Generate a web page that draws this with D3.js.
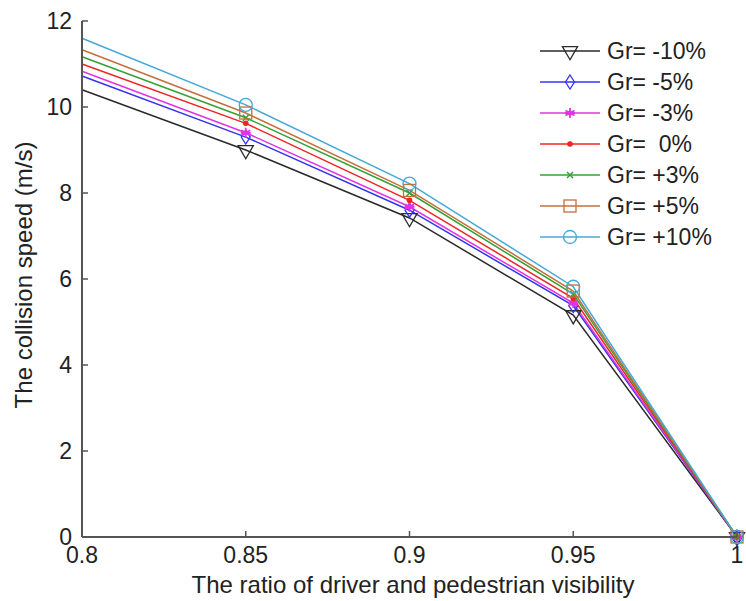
<!DOCTYPE html>
<html>
<head>
<meta charset="utf-8">
<script src="https://cdn.jsdelivr.net/npm/d3@7"></script>
<style>
  body { margin: 0; background: #fff; }
  text { font-family: "Liberation Sans", Arial, sans-serif; fill: #222; }
</style>
</head>
<body>
<svg id="vis" width="746" height="601"></svg>
<script>
// collision speed vs visibility ratio, one line per grade

var ratios = [0.8, 0.85, 0.9, 0.95, 1];
var labels = ["Gr= -10%", "Gr= -5%", "Gr= -3%", "Gr=  0%", "Gr= +3%", "Gr= +5%", "Gr= +10%"];
var grM10 = [10.40, 9.00, 7.42, 5.16, 0];
var grM5  = [10.72, 9.30, 7.60, 5.38, 0];
var grM3  = [10.83, 9.40, 7.68, 5.44, 0];
var gr0   = [11.00, 9.62, 7.83, 5.55, 0];
var grP3  = [11.17, 9.75, 8.00, 5.65, 0];
var grP5  = [11.33, 9.86, 8.06, 5.72, 0];
var grP10 = [11.60, 10.05, 8.22, 5.82, 0];
var xTicks = [0.8, 0.85, 0.9, 0.95, 1];
var yTicks = [0, 2, 4, 6, 8, 10, 12];

var series = [grM10, grM5, grM3, gr0, grP3, grP5, grP10];
var colors = ["#2a2a2a", "#3434f0", "#e034e0", "#f02424", "#36a036", "#c2703e", "#44a8d8"];
var shapes = ["tri", "diamond", "star", "dot", "cross", "square", "circle"];

var svg = d3.select("#vis");
var mLeft = 82, mRight = 737, mTop = 21, mBottom = 537;

var x = d3.scaleLinear().domain([0.8, 1]).range([mLeft, mRight]);
var y = d3.scaleLinear().domain([0, 12]).range([mBottom, mTop]);

// lines
var line = d3.line()
  .x(function(d, i) { return x(ratios[i]); })
  .y(function(d) { return y(d); });

series.forEach(function(s, k) {
  svg.append("path")
    .attr("d", line(s))
    .attr("fill", "none")
    .attr("stroke", colors[k])
    .attr("stroke-width", 1.5);
});

function marker(g, shape, color) {
  if (shape == "tri") {
    g.append("path").attr("d", d3.symbol().type(d3.symbolTriangle).size(100)())
      .attr("transform", "rotate(180)")
      .attr("fill", "none").attr("stroke", color).attr("stroke-width", 1.3);
  } else if (shape == "diamond") {
    g.append("path").attr("d", "M0,-7 L4.5,0 L0,7 L-4.5,0 Z")
      .attr("fill", "none").attr("stroke", color).attr("stroke-width", 1.3);
  } else if (shape == "star") {
    g.append("path").attr("d", "M0,-5 L0,5 M-4.5,-2.5 L4.5,2.5 M-4.5,2.5 L4.5,-2.5 M-5,0 L5,0")
      .attr("stroke", color).attr("stroke-width", 1.8);
    g.append("circle").attr("r", 2.5).attr("fill", color);
  } else if (shape == "dot") {
    g.append("circle").attr("r", 2.8).attr("fill", color);
  } else if (shape == "cross") {
    g.append("path").attr("d", "M-3,-3 L3,3 M-3,3 L3,-3")
      .attr("stroke", color).attr("stroke-width", 1.5);
  } else if (shape == "square") {
    g.append("rect").attr("x", -6).attr("y", -6).attr("width", 12).attr("height", 12)
      .attr("fill", "none").attr("stroke", color).attr("stroke-width", 1.3);
  } else if (shape == "circle") {
    g.append("circle").attr("r", 6.5)
      .attr("fill", "none").attr("stroke", color).attr("stroke-width", 1.3);
  }
}

// markers (the first point sits on the axis edge and is clipped in the original)
series.forEach(function(s, k) {
  s.forEach(function(v, i) {
    if (i == 0) return;
    var g = svg.append("g").attr("transform", "translate(" + x(ratios[i]) + "," + y(v) + ")");
    marker(g, shapes[k], colors[k]);
  });
});

// axes
var axisColor = "#555";
svg.append("line").attr("x1", mLeft).attr("x2", mRight).attr("y1", mBottom).attr("y2", mBottom)
  .attr("stroke", axisColor).attr("stroke-width", 2);
svg.append("line").attr("x1", mLeft).attr("x2", mLeft).attr("y1", mTop).attr("y2", mBottom)
  .attr("stroke", axisColor).attr("stroke-width", 2);

xTicks.forEach(function(t) {
  svg.append("line").attr("x1", x(t)).attr("x2", x(t)).attr("y1", mBottom).attr("y2", mBottom - 6)
    .attr("stroke", axisColor).attr("stroke-width", 1.5);
  svg.append("text").attr("x", x(t)).attr("y", mBottom + 26)
    .style("font-size", "23px").style("text-anchor", "middle").text(t);
});
yTicks.forEach(function(t) {
  svg.append("line").attr("x1", mLeft).attr("x2", mLeft + 6).attr("y1", y(t)).attr("y2", y(t))
    .attr("stroke", axisColor).attr("stroke-width", 1.5);
  svg.append("text").attr("x", mLeft - 10).attr("y", y(t) + 8)
    .style("font-size", "23px").style("text-anchor", "end").text(t);
});

svg.append("text").attr("x", 413).attr("y", 593)
  .style("font-size", "24px").style("text-anchor", "middle")
  .text("The ratio of driver and pedestrian visibility");
svg.append("text").attr("transform", "translate(32,275) rotate(-90)")
  .style("font-size", "24px").style("text-anchor", "middle")
  .text("The collision speed (m/s)");

// legend
var legend = svg.selectAll(".legend")
  .data(labels)
  .enter().append("g")
  .attr("class", "legend")
  .attr("transform", function(d, i) { return "translate(540," + (51 + i * 31) + ")"; });

legend.append("line").attr("x1", 0).attr("x2", 60)
  .attr("stroke", function(d, i) { return colors[i]; }).attr("stroke-width", 1.5);
legend.each(function(d, i) {
  var g = d3.select(this).append("g").attr("transform", "translate(30,0)");
  marker(g, shapes[i], colors[i]);
});
legend.append("text").attr("x", 67).attr("y", 8)
  .style("font-size", "23px").style("white-space", "pre").attr("xml:space", "preserve")
  .text(function(d) { return d; });
</script>
</body>
</html>
